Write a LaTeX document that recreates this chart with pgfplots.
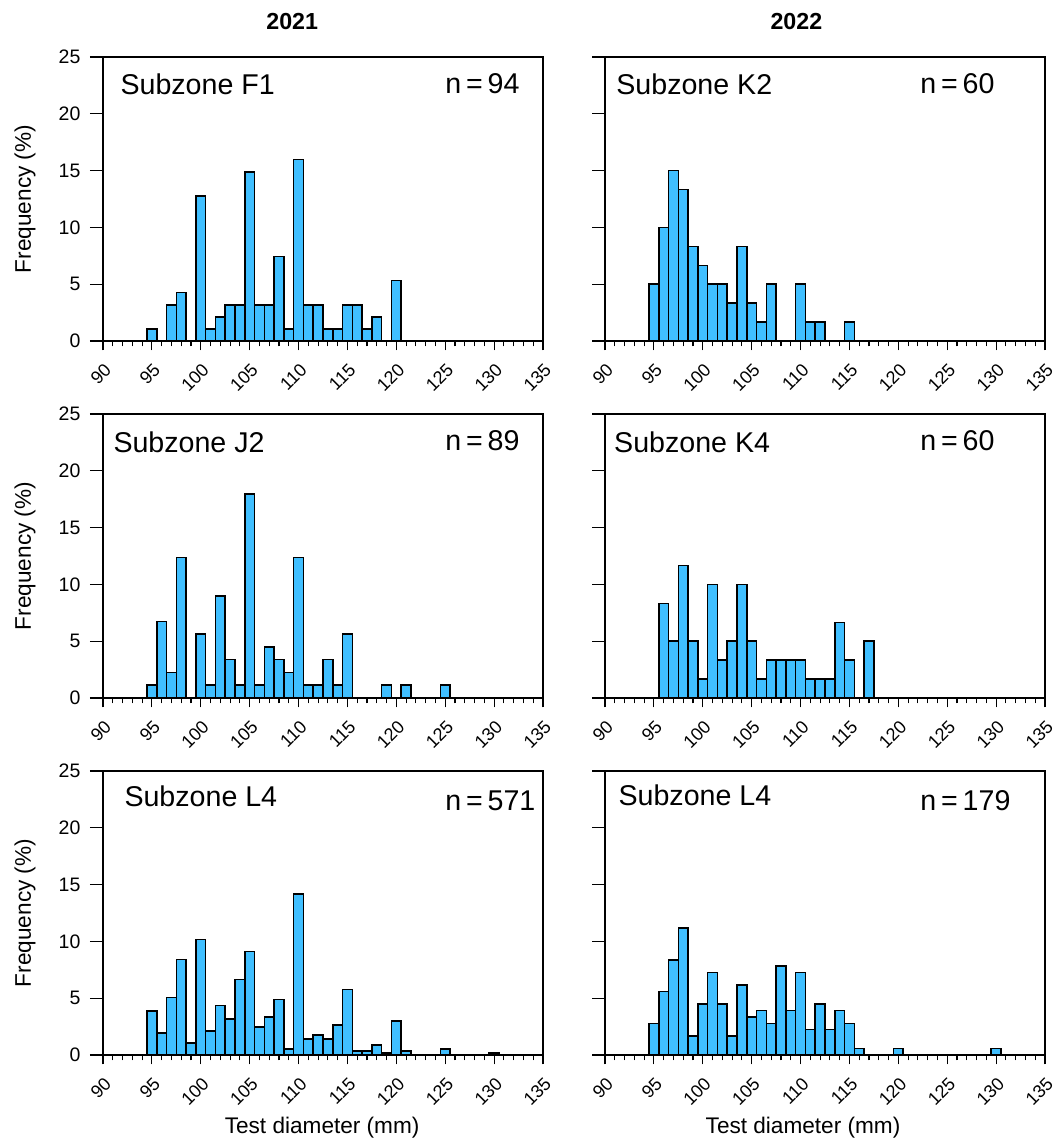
\documentclass[border=0pt]{standalone}
\usepackage{fontspec}
\setmainfont{Liberation Sans}
\usepackage{pgfplots}
\pgfplotsset{compat=1.18}
\definecolor{barblue}{HTML}{40BFFF}

\pgfplotsset{
  hist/.style={
    scale only axis, width=220pt, height=142pt,
    anchor=south west,
    xmin=90, xmax=135, ymin=0, ymax=25,
    xtick={90,95,...,135}, minor x tick num=4,
    ytick={0,5,...,25},
    tick align=outside, xtick pos=bottom, ytick pos=left,
    xtick style={/pgfplots/major tick length=4.7pt, /pgfplots/minor tick length=2.7pt},
    ytick style={/pgfplots/major tick length=6.5pt},
    every tick/.style={black, line width=0.6pt},
    axis line style={black, line width=0.6pt},
    % shifts are taken in the rotated frame
    xticklabel style={font=\fontsize{9}{10}\selectfont, rotate=45, anchor=east, xshift=-1pt, yshift=-8pt},
    yticklabel style={font=\fontsize{9.75}{11}\selectfont, xshift=-3.5pt},
    /pgf/number format/assume math mode=true,
    label style={font=\fontsize{11.3}{13}\selectfont},
  },
  bars/.style={ybar, bar width=1, bar shift=0, fill=barblue, draw=black, line width=0.75pt},
}
\tikzset{panel/.style={font=\fontsize{14.3}{16}\selectfont, anchor=west, inner sep=0pt}}
\newcommand{\nn}[1]{n\hspace{0.17em}=\hspace{0.17em}#1}

\begin{document}
\begin{tikzpicture}
\useasboundingbox (0,0) rectangle (528.5pt,-573pt);

% ---- 2021, Subzone F1 ----
\begin{axis}[hist, at={(51.5pt,-170.5pt)},
  ylabel={Frequency (\%)}, ylabel style={at={(axis description cs:-0.177,0.5)}, anchor=center},
  title={\fontsize{11.6}{13}\selectfont\bfseries 2021},
  title style={at={(axis description cs:0.43,1.0)}, anchor=center, yshift=11.5pt}]
\addplot[bars] coordinates {
  (95,1.064) (97,3.191) (98,4.255) (100,12.766) (101,1.064) (102,2.128)
  (103,3.191) (104,3.191) (105,14.894) (106,3.191) (107,3.191) (108,7.447)
  (109,1.064) (110,15.957) (111,3.191) (112,3.191) (113,1.064) (114,1.064)
  (115,3.191) (116,3.191) (117,1.064) (118,2.128) (120,5.319)};
\node[panel] at (axis description cs:0.039,0.905) {Subzone F1};
\node[panel] at (axis description cs:0.777,0.905) {\nn{94}};
\end{axis}

% ---- 2022, Subzone K2 ----
\begin{axis}[hist, at={(302.5pt,-170.5pt)}, yticklabels={},
  title={\fontsize{11.6}{13}\selectfont\bfseries 2022},
  title style={at={(axis description cs:0.435,1.0)}, anchor=center, yshift=11.5pt}]
\addplot[bars] coordinates {
  (95,5) (96,10) (97,15) (98,13.333) (99,8.333) (100,6.667) (101,5)
  (102,5) (103,3.333) (104,8.333) (105,3.333) (106,1.667) (107,5)
  (110,5) (111,1.667) (112,1.667) (115,1.667)};
\node[panel] at (axis description cs:0.025,0.905) {Subzone K2};
\node[panel] at (axis description cs:0.716,0.905) {\nn{60}};
\end{axis}

% ---- 2021, Subzone J2 ----
\begin{axis}[hist, at={(51.5pt,-349pt)},
  ylabel={Frequency (\%)}, ylabel style={at={(axis description cs:-0.177,0.5)}, anchor=center}]
\addplot[bars] coordinates {
  (95,1.124) (96,6.742) (97,2.247) (98,12.360) (100,5.618) (101,1.124)
  (102,8.989) (103,3.371) (104,1.124) (105,17.978) (106,1.124) (107,4.494)
  (108,3.371) (109,2.247) (110,12.360) (111,1.124) (112,1.124) (113,3.371)
  (114,1.124) (115,5.618) (119,1.124) (121,1.124) (125,1.124)};
\node[panel] at (axis description cs:0.023,0.9) {Subzone J2};
\node[panel] at (axis description cs:0.777,0.905) {\nn{89}};
\end{axis}

% ---- 2022, Subzone K4 ----
\begin{axis}[hist, at={(302.5pt,-349pt)}, yticklabels={}]
\addplot[bars] coordinates {
  (96,8.333) (97,5) (98,11.667) (99,5) (100,1.667) (101,10) (102,3.333)
  (103,5) (104,10) (105,5) (106,1.667) (107,3.333) (108,3.333) (109,3.333)
  (110,3.333) (111,1.667) (112,1.667) (113,1.667) (114,6.667) (115,3.333)
  (117,5)};
\node[panel] at (axis description cs:0.02,0.9) {Subzone K4};
\node[panel] at (axis description cs:0.716,0.905) {\nn{60}};
\end{axis}

% ---- 2021, Subzone L4 ----
\begin{axis}[hist, at={(51.5pt,-527.5pt)},
  ylabel={Frequency (\%)}, ylabel style={at={(axis description cs:-0.177,0.5)}, anchor=center},
  xlabel={Test diameter (mm)}, xlabel style={at={(axis description cs:0.498,-0.257)}, anchor=center}]
\addplot[bars] coordinates {
  (95,3.853) (96,1.926) (97,5.079) (98,8.406) (99,1.051) (100,10.158)
  (101,2.102) (102,4.378) (103,3.152) (104,6.655) (105,9.107) (106,2.452)
  (107,3.327) (108,4.904) (109,0.525) (110,14.186) (111,1.401) (112,1.751)
  (113,1.401) (114,2.627) (115,5.779) (116,0.350) (117,0.350) (118,0.876)
  (119,0.175) (120,2.977) (121,0.350) (125,0.525) (130,0.175)};
\node[panel] at (axis description cs:0.048,0.91) {Subzone L4};
\node[panel] at (axis description cs:0.777,0.895) {\nn{571}};
\end{axis}

% ---- 2022, Subzone L4 ----
\begin{axis}[hist, at={(302.5pt,-527.5pt)}, yticklabels={},
  xlabel={Test diameter (mm)}, xlabel style={at={(axis description cs:0.45,-0.257)}, anchor=center}]
\addplot[bars] coordinates {
  (95,2.793) (96,5.587) (97,8.380) (98,11.173) (99,1.676) (100,4.469)
  (101,7.263) (102,4.469) (103,1.676) (104,6.145) (105,3.352) (106,3.911)
  (107,2.793) (108,7.821) (109,3.911) (110,7.263) (111,2.235) (112,4.469)
  (113,2.235) (114,3.911) (115,2.793) (116,0.559) (120,0.559) (130,0.559)};
\node[panel] at (axis description cs:0.03,0.915) {Subzone L4};
\node[panel] at (axis description cs:0.716,0.895) {\nn{179}};
\end{axis}
\end{tikzpicture}
\end{document}
